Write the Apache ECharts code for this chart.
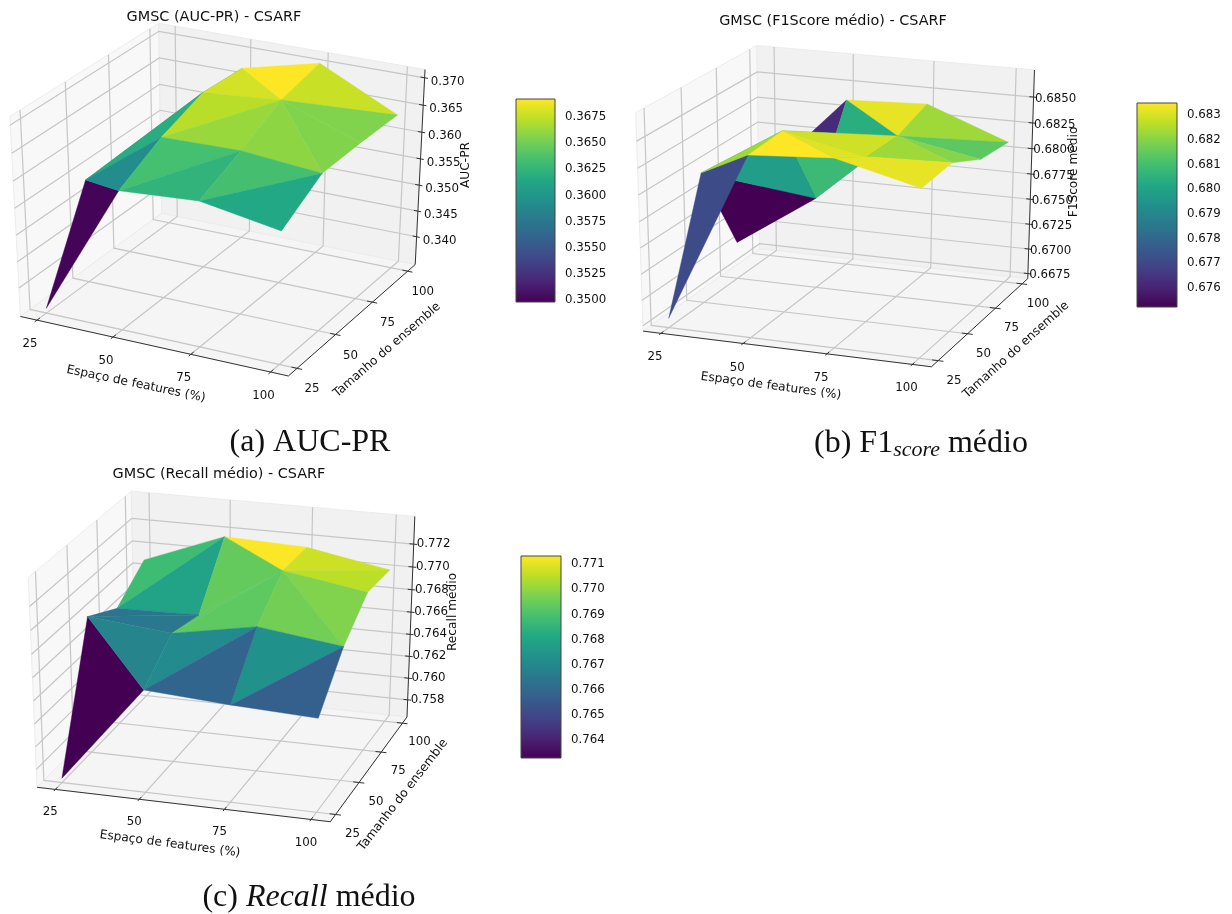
<!DOCTYPE html>
<html><head><meta charset="utf-8"><style>html,body{margin:0;background:#fff}#c{width:1232px;height:914px}</style></head><body><div id="c"></div>
<script src="https://cdn.jsdelivr.net/npm/echarts@6/dist/echarts.min.js"></script>
<script>
// ---------- data ----------
var featureTicks = [25, 50, 75, 100];
var ensembleTicks = [25, 50, 75, 100];
// rows: ensemble 25..100, columns: features 25..100
var zAuc = [[.33542,.36049,.36152,.35911],[.35408,.36471,.36504,.36377],[.35306,.36768,.36895,.36391],[.35290,.36719,.37063,.36374]];
var zF1  = [[.66789,.68423,.68475,.68281],[.67967,.68446,.68281,.68304],[.67064,.67589,.68273,.68129],[.67559,.68351,.68386,.68089]];
var zRec = [[.75678,.76535,.76487,.76454],[.76846,.76775,.76906,.76811],[.76685,.76699,.77155,.77039],[.76891,.77165,.77138,.77008]];
// diagonal of each mesh cell: 0 = from (i,j+1) to (i+1,j), 1 = from (i,j) to (i+1,j+1)
var diagAuc = [[0,1,1],[1,1,0],[0,0,1]];
var diagF1  = [[0,0,0],[1,1,0],[0,0,1]];
var diagRec = [[0,1,1],[1,1,0],[1,0,1]];
// face values, two per mesh cell (null: mean of the three corners)
var faceAuc = [[[null,.3592],[null,null],[null,null]],[[.3618,null],[null,null],[null,null]],[[null,null],[null,.3692],[null,.3676]]];
var faceF1  = [[[.6771,.6823],[.6835,.6831],[.6832,.6832]],[[.6798,.6752],[.6829,.6808],[.6823,.6820]],[[.6752,.6762],[.6804,.6832],[.6814,.6823]]];
var faceRec = [[[.7633,.7669],[.7659,.7671],[.7657,.7673]],[[.7665,.7664],[.7693,.7693],[.7696,.7698]],[[.7679,.7688],[.7694,.7713],[.7705,.7707]]];
var zTicksAuc = [.340,.345,.350,.355,.360,.365,.370];
var zTicksF1  = [.6675,.6700,.6725,.6750,.6775,.6800,.6825,.6850];
var zTicksRec = [.758,.760,.762,.764,.766,.768,.770,.772];
var cbTicksAuc = [.3500,.3525,.3550,.3575,.3600,.3625,.3650,.3675];
var cbTicksF1  = [.676,.677,.678,.679,.680,.681,.682,.683];
var cbTicksRec = [.764,.765,.766,.767,.768,.769,.770,.771];

var viridis = ['#440154','#482475','#414487','#355f8d','#2a788e','#21918c','#22a884','#44bf70','#7ad151','#bddf26','#fde725'];
var FONT = '"DejaVu Sans"';
var panels = [
 {z:zAuc,diag:diagAuc,face:faceAuc,zt:zTicksAuc,zd:3,cbt:cbTicksAuc,cbd:4,zr:[.3345,.3715],cbr:[.34984,.3692],cam:{el:30.25,az:-62.75,sx:3003.9,tx:221.4,sy:2284.4,ty:193.8},
  cb:{left:516,top:99,width:39,height:203},title:'GMSC (AUC-PR) - CSARF',tp:[214,17],
  xo:[-7,24],yo:[15,21],zo:[23,4],zl:'AUC-PR',zlp:[466,165],xn:[136,384,-11.7],yn:[387,350,41]},
 {z:zF1,diag:diagF1,face:faceF1,zt:zTicksF1,zd:4,cbt:cbTicksF1,cbd:3,zr:[.66698,.6876],cbr:[.67523,.6835],cam:{el:21.25,az:-69,sx:3028.8,tx:840.5,sy:2289.9,ty:199.4},
  cb:{left:1137,top:103,width:40,height:204},title:'GMSC (F1Score médio) - CSARF',tp:[833,21],
  xo:[-6,24],yo:[16,20],zo:[22,1.5],zl:'F1Score médio',zlp:[1074,172],xn:[771,386,-7.7],yn:[1016,350,42]},
 {z:zRec,diag:diagRec,face:faceRec,zt:zTicksRec,zd:3,cbt:cbTicksRec,cbd:3,zr:[.7564,.7744],cbr:[.7633,.77132],cam:{el:26,az:-72.75,sx:3017.8,tx:227.4,sy:2281,ty:650.8},
  cb:{left:521,top:556,width:40,height:202},title:'GMSC (Recall médio) - CSARF',tp:[219,474],
  xo:[-5,23],yo:[17,19],zo:[20,0],zl:'Recall médio',zlp:[453,612],xn:[170,844,-7.5],yn:[403,795,52]}
];
var RX=.072, RY=.084, LO=19.5, SPAN=86;

function project(c,p){
  var e=c.el*Math.PI/180,a=c.az*Math.PI/180;
  var n=[Math.cos(e)*Math.cos(a),Math.cos(e)*Math.sin(a),Math.sin(e)];
  var u=[-Math.sin(a),Math.cos(a),0];
  var v=[n[1]*u[2]-n[2]*u[1],n[2]*u[0]-n[0]*u[2],n[0]*u[1]-n[1]*u[0]];
  var q=[p[0]-.5,p[1]-.5,p[2]-.5];
  var d=10-(q[0]*n[0]+q[1]*n[1]+q[2]*n[2]);
  return {x:(q[0]*u[0]+q[1]*u[1])/d,y:(q[0]*v[0]+q[1]*v[1]+q[2]*v[2])/d,d:d};
}
function viridisAt(t){
  t=Math.max(0,Math.min(1,t))*(viridis.length-1);
  var i=Math.min(viridis.length-2,Math.floor(t)),f=t-i;
  function h(s,k){return parseInt(s.substr(1+2*k,2),16)}
  var r=[0,1,2].map(function(k){return Math.round(h(viridis[i],k)*(1-f)+h(viridis[i+1],k)*f)});
  return 'rgb('+r.join(',')+')';
}
var grids=[],xAxes=[],yAxes=[],series=[],graphics=[];
panels.forEach(function(P,pi){
  var c=P.cam,gi=grids.length;
  grids.push({left:c.tx-RX*c.sx,width:2*RX*c.sx,top:c.ty-RY*c.sy,height:2*RY*c.sy,show:false});
  xAxes.push({gridIndex:gi,type:'value',min:-RX,max:RX,show:false});
  yAxes.push({gridIndex:gi,type:'value',min:-RY,max:RY,show:false});
  function ux(v){return (v-LO)/SPAN}
  function uz(v){return (v-P.zr[0])/(P.zr[1]-P.zr[0])}
  function pt(api,p){var q=project(c,p);return api.coord([q.x,q.y]);}
  var base={type:'custom',coordinateSystem:'cartesian2d',xAxisIndex:gi,yAxisIndex:gi,clip:false,silent:true,animation:false,encode:{x:0,y:1}};
  // panes
  series.push(Object.assign({},base,{data:[
    [0,0,0, 0,1,0, 0,1,1, 0,0,1, 0],
    [0,1,0, 1,1,0, 1,1,1, 0,1,1, 1],
    [0,0,0, 1,0,0, 1,1,0, 0,1,0, 2]],
    renderItem:function(p,api){
      var pts=[0,1,2,3].map(function(k){return pt(api,[api.value(3*k),api.value(3*k+1),api.value(3*k+2)])});
      var fill=['#f8f8f8','#f1f1f1','#f5f5f5'][api.value(12)];
      return {type:'polygon',shape:{points:pts},style:{fill:fill,stroke:'#ececec',lineWidth:1}};
    }}));
  // grid lines & axis lines
  var gl=[];
  featureTicks.forEach(function(t){var f=ux(t);gl.push([f,0,0,f,1,0,f,1,1])});
  ensembleTicks.forEach(function(t){var f=ux(t);gl.push([1,f,0,0,f,0,0,f,1])});
  P.zt.forEach(function(t){var f=uz(t);gl.push([0,0,f,0,1,f,1,1,f])});
  series.push(Object.assign({},base,{data:gl,renderItem:function(p,api){
    var pts=[0,1,2].map(function(k){return pt(api,[api.value(3*k),api.value(3*k+1),api.value(3*k+2)])});
    return {type:'polyline',shape:{points:pts},style:{fill:null,stroke:'#c6c6c6',lineWidth:1.2}};
  }}));
  var al=[[0,0,0,1,0,0],[1,0,0,1,1,0],[1,1,0,1,1,1]];
  featureTicks.forEach(function(t){var f=ux(t);al.push([f,-.015,0,f,.02,0])});
  ensembleTicks.forEach(function(t){var f=ux(t);al.push([1.018,f,0,.98,f,0])});
  P.zt.forEach(function(t){var f=uz(t);al.push([1.012,1,f,.985,1,f])});
  series.push(Object.assign({},base,{data:al,renderItem:function(p,api){
    var a=pt(api,[api.value(0),api.value(1),api.value(2)]),b=pt(api,[api.value(3),api.value(4),api.value(5)]);
    return {type:'line',shape:{x1:a[0],y1:a[1],x2:b[0],y2:b[1]},style:{stroke:'#333',lineWidth:1}};
  }}));
  // surface: triangles sorted far to near
  var tris=[];
  function idx(i,j){return [featureTicks[i],ensembleTicks[j],P.z[j][i]]}
  for(var j=0;j<3;j++)for(var i=0;i<3;i++){
    var A=idx(i,j),B=idx(i+1,j),C=idx(i,j+1),D=idx(i+1,j+1),fv=P.face[j][i];
    if(P.diag[j][i]){tris.push([A,B,D,fv[0]]);tris.push([A,D,C,fv[1]]);}else{tris.push([A,B,C,fv[0]]);tris.push([B,D,C,fv[1]]);}
  }
  var rows=tris.map(function(T){
    var V=T.slice(0,3);
    var U=V.map(function(v){return [ux(v[0]),ux(v[1]),uz(v[2])]});
    var m=T[3]!==null?T[3]:(V[0][2]+V[1][2]+V[2][2])/3;
    var d=U.reduce(function(s,u){return s+project(c,u).d},0)/3;
    return {d:d,row:[].concat(U[0],U[1],U[2],[m])};
  }).sort(function(a,b){return b.d-a.d}).map(function(o){return o.row});
  series.push(Object.assign({},base,{data:rows,renderItem:function(p,api){
    var pts=[0,1,2].map(function(k){return pt(api,[api.value(3*k),api.value(3*k+1),api.value(3*k+2)])});
    var col=viridisAt((api.value(9)-P.cbr[0])/(P.cbr[1]-P.cbr[0]));
    return {type:'polygon',shape:{points:pts},style:{fill:col,stroke:col,lineWidth:.4}};
  }}));
  // tick labels
  var txt=[];
  featureTicks.forEach(function(t){txt.push({p:[ux(t),0,0],o:P.xo,s:String(t)})});
  ensembleTicks.forEach(function(t){txt.push({p:[1,ux(t),0],o:P.yo,s:String(t)})});
  P.zt.forEach(function(t){txt.push({p:[1,1,uz(t)],o:P.zo,s:t.toFixed(P.zd)})});
  series.push(Object.assign({},base,{data:txt.map(function(t,i){return [0,0,i]}),renderItem:function(p,api){
    var t=txt[api.value(2)],a=pt(api,t.p);
    return {type:'text',x:a[0]+t.o[0],y:a[1]+t.o[1],style:{text:t.s,fill:'#111',font:'11.8px '+FONT,align:'center',verticalAlign:'middle'}};
  }}));
  // colour bar
  var ci=grids.length;
  grids.push({left:P.cb.left,top:P.cb.top,width:P.cb.width,height:P.cb.height,show:false});
  xAxes.push({gridIndex:ci,type:'value',min:0,max:1,show:false});
  yAxes.push({gridIndex:ci,type:'value',position:'right',min:P.cbr[0],max:P.cbr[1],splitLine:{show:false},
    axisLine:{show:false},
    axisTick:{show:true,length:4,inside:false,customValues:P.cbt,lineStyle:{color:'#222',width:1}},
    axisLabel:{show:true,margin:10,color:'#111',fontSize:11.8,fontFamily:FONT,customValues:P.cbt,formatter:function(v){return v.toFixed(P.cbd)}}});
  series.push({type:'custom',coordinateSystem:'cartesian2d',xAxisIndex:ci,yAxisIndex:ci,clip:false,silent:true,animation:false,
    data:[[0,P.cbr[0],1,P.cbr[1]]],encode:{x:[0,2],y:[1,3]},
    renderItem:function(p,api){
      var a=api.coord([api.value(0),api.value(1)]),b=api.coord([api.value(2),api.value(3)]);
      return {type:'rect',shape:{x:a[0],y:b[1],width:b[0]-a[0],height:a[1]-b[1]},style:{stroke:'#444',lineWidth:1,
        fill:new echarts.graphic.LinearGradient(0,1,0,0,viridis.map(function(s,i){return {offset:i/(viridis.length-1),color:s}}))}};
    }});
  // titles & axis names
  function tx(s,x,y,deg,size){graphics.push({type:'text',x:x,y:y,rotation:(deg||0)*Math.PI/180,silent:true,style:{text:s,fill:'#111',font:(size||12.2)+'px '+FONT,align:'center',verticalAlign:'middle'}})}
  tx(P.title,P.tp[0],P.tp[1],0,14.4);
  tx('Espaço de features (%)',P.xn[0],P.xn[1],P.xn[2]);
  tx('Tamanho do ensemble',P.yn[0],P.yn[1],P.yn[2]);
  tx(P.zl,P.zlp[0],P.zlp[1],90);
});
// captions
var capFont='32px "Liberation Serif"';
[['(a) AUC-PR',310,443],['(b) F1{s|score} médio',921,444],['(c) {i|Recall} médio',309,898]].forEach(function(k){
  graphics.push({type:'text',x:k[1],y:k[2],silent:true,style:{text:k[0],fill:'#111',font:capFont,align:'center',verticalAlign:'middle',
    rich:{s:{font:'italic 22px "Liberation Serif"',fill:'#111',padding:[12,0,0,0]},i:{font:'italic 32px "Liberation Serif"',fill:'#111'}}}});
});
var chart=echarts.init(document.getElementById('c'),null,{renderer:'canvas',width:1232,height:914});
chart.setOption({animation:false,backgroundColor:'#fff',grid:grids,xAxis:xAxes,yAxis:yAxes,series:series,graphic:{elements:graphics}});
</script></body></html>
